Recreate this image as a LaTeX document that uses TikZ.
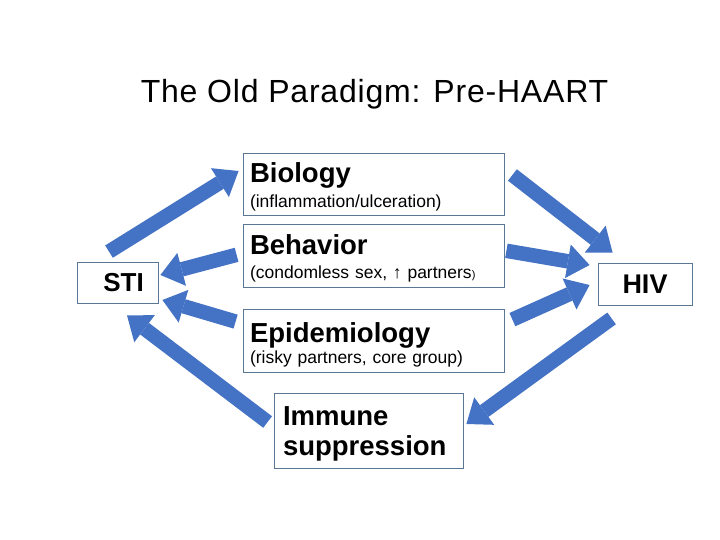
\documentclass[tikz,border=0pt]{standalone}
\usepackage{fontspec}
\setmainfont{Liberation Sans}
\usetikzlibrary{arrows.meta, positioning}
\definecolor{boxline}{RGB}{90,120,150}
\definecolor{arrowblue}{RGB}{68,114,196}

\begin{document}
\begin{tikzpicture}[
    x=1pt, y=-1pt,
    box/.style={draw=boxline, line width=0.8pt, rectangle, inner xsep=7pt, inner ysep=0pt, align=left},
    headtext/.style={font=\fontsize{27.5}{30}\selectfont\bfseries},
    blockarrow/.style={arrowblue, line width=14.5pt, -{Triangle[length=22pt, width=34pt, line width=0pt]}}
  ]
  \useasboundingbox (0,0) rectangle (720,540);

  % Title
  \node (title) at (374.5,94) {\fontsize{32}{36}\selectfont\addfontfeature{LetterSpace=2.5}The Old Paradigm: Pre-HAART};

  % Middle column: Biology / Behavior / Epidemiology
  \node (bio) [box, text width=247pt, minimum height=62pt, font=\fontsize{17.5}{25}\selectfont] at (373.5,184) {%
    \rule{0pt}{25pt}{\bfseries\fontsize{27.5}{25}\selectfont Biology}\\
    (inflammation/ulceration)};

  \node (behav) [box, text width=247pt, minimum height=63pt, font=\fontsize{17.5}{24}\selectfont, below=9pt of bio] {%
    \rule{0pt}{25pt}{\bfseries\fontsize{27.5}{24}\selectfont Behavior}\\
    (condomless sex, ↑ partners{\fontsize{11}{12}\selectfont)}};

  \node (epi) [box, text width=247pt, minimum height=63pt, font=\fontsize{17.5}{21}\selectfont, below=21pt of behav] {%
    \rule{0pt}{27.5pt}{\bfseries\fontsize{27.5}{21}\selectfont Epidemiology}\\
    (risky partners, core group)};

  % Immune suppression
  \node (immune) [box, inner xsep=9pt, text width=171pt, minimum height=75pt, headtext] at (368.5,430.5) {%
    \rule{0pt}{25pt}Immune\\suppression};

  % Outer boxes
  \node (sti) [box, minimum width=81pt, minimum height=41pt, font=\fontsize{26}{30}\selectfont\bfseries] at (117.5,282.5) {\hspace{12pt}STI};
  \node (hiv) [box, minimum width=94pt, minimum height=42pt, font=\fontsize{27}{30}\selectfont\bfseries] at (645,284) {HIV};

  % Connectors into STI
  \draw[blockarrow] ([shift={(-8.5,-10)}]sti.north) -- ([shift={(-4,-13)}]bio.west);
  \draw[blockarrow] ([shift={(-6,-1.5)}]behav.west) -- ([shift={(2,-7.5)}]sti.east);
  \draw[blockarrow] ([shift={(-7,-19.5)}]epi.west) -- ([shift={(4,17.5)}]sti.east);
  \draw[blockarrow] ([shift={(-6,-8.5)}]immune.west) -- ([shift={(9.5,12)}]sti.south);

  % Connectors into HIV
  \draw[blockarrow] ([shift={(8,-9)}]bio.east) -- ([shift={(15,-10)}]hiv.north west);
  \draw[blockarrow] ([shift={(2,-5.5)}]behav.east) -- ([shift={(-8,-19)}]hiv.west);
  \draw[blockarrow] ([shift={(8,-21.5)}]epi.east) -- ([shift={(-8,1)}]hiv.west);
  \draw[blockarrow] ([shift={(14,13)}]hiv.south west) -- ([shift={(3,-6.5)}]immune.east);
\end{tikzpicture}
\end{document}
